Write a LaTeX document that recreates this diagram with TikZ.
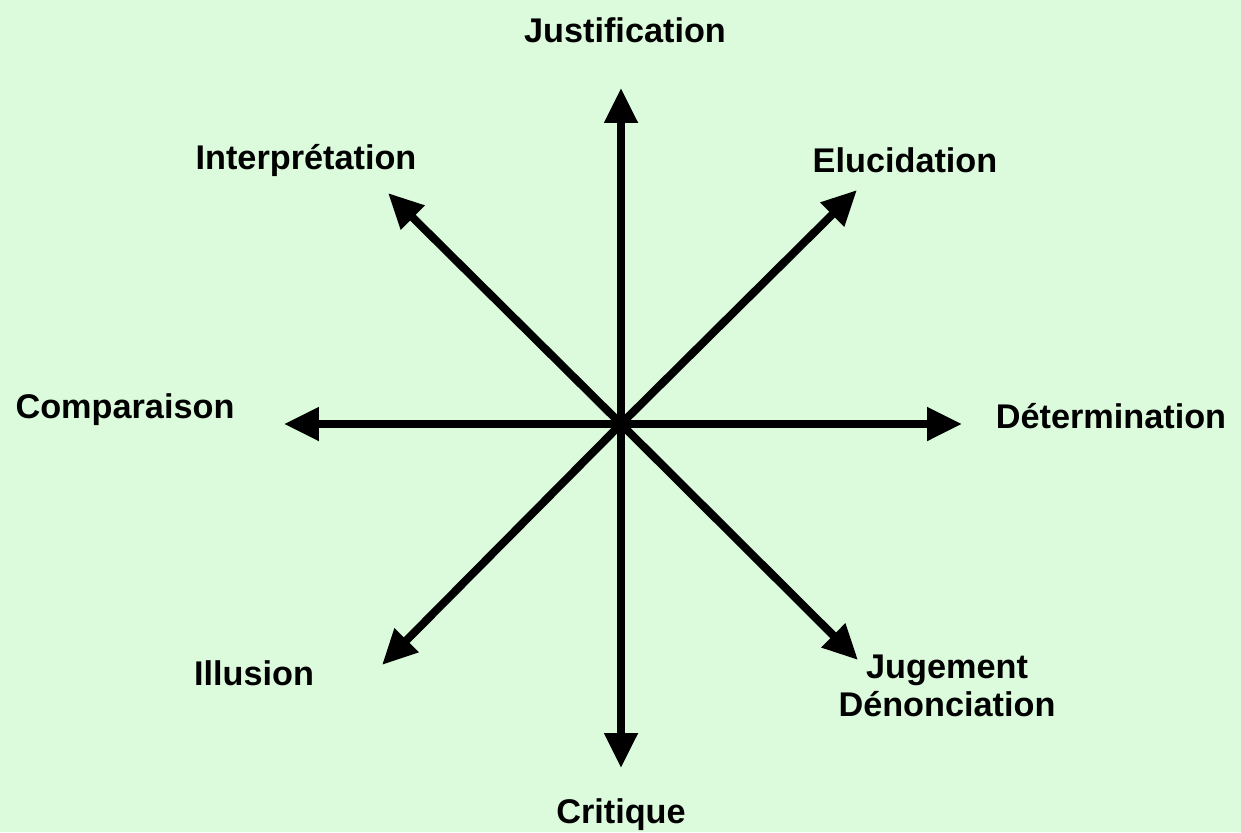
\documentclass[tikz,border=0pt]{standalone}
\usepackage{fontspec}
\setmainfont{Liberation Sans}
\usepackage{xcolor}
\usetikzlibrary{arrows.meta, positioning}
\definecolor{paleGreen}{HTML}{DCFADC}

\begin{document}
\begin{tikzpicture}[
    x=0.02cm, y=-0.02cm,
    axis/.style={-{Triangle[length=0.7cm, width=0.64cm]}, line width=0.16cm, line cap=butt},
    label/.style={font=\fontsize{19.5}{22}\selectfont\bfseries, align=center, inner sep=0pt}
]

% Background
\fill[paleGreen] (0,0) rectangle (1241,832);
\useasboundingbox (0,0) rectangle (1241,832);

% Centre and arrow tips
\coordinate (centre) at (621,424);
\coordinate (north) at (621,88);
\coordinate (south) at (621,768);
\coordinate (west) at (284,424);
\coordinate (east) at (962,424);
\coordinate (northwest) at (388,193);
\coordinate (northeast) at (857,190);
\coordinate (southwest) at (382,665);
\coordinate (southeast) at (858,660);

% Arrows
\draw[axis] (centre) -- (north);
\draw[axis] (centre) -- (south);
\draw[axis] (centre) -- (west);
\draw[axis] (centre) -- (east);
\draw[axis] (centre) -- (northwest);
\draw[axis] (centre) -- (northeast);
\draw[axis] (centre) -- (southwest);
\draw[axis] (centre) -- (southeast);

% Labels
\node[label] (justif) at (625,30) {Justification};
\node[label] (interp) at (306,160) {Interprétation};
\node[label] (eluc) at (905,160) {Elucidation};
\node[label] (compar) at (125,410) {Comparaison};
\node[label] (determ) at (1111,416) {Détermination};
\node[label] (illus) at (254,673) {Illusion};
\node[label] (jugement) at (947,686) {Jugement\\Dénonciation};
\node[label] (critique) at (621,815) {Critique};

\end{tikzpicture}
\end{document}
